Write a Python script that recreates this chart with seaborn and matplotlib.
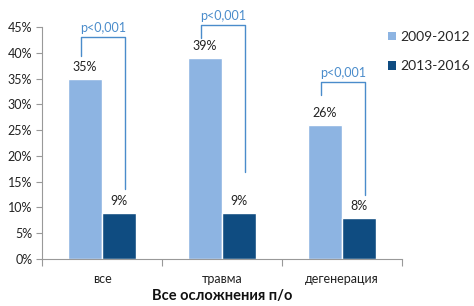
import matplotlib
matplotlib.use("Agg")
import matplotlib.pyplot as plt
import seaborn as sns
import pandas as pd
import numpy as np
from matplotlib.patches import Patch

categories = ["все", "травма", "дегенерация"]
series = ["2009-2012", "2013-2016"]
values_2009 = [35, 39, 26]
values_2013 = [9, 9, 8]
p_labels = ["p<0,001", "p<0,001", "p<0,001"]
y_ticks = [0, 5, 10, 15, 20, 25, 30, 35, 40, 45]
x_title = "Все осложнения п/о"

# bracket annotation heights (in % units)
bracket_top = [43.1, 45.4, 34.3]
bracket_left_bottom = [39.4, 42.9, 31.8]
bracket_right_bottom = [13.6, 16.9, 12.4]

colors = ["#8DB4E2", "#0F4C81"]
bracket_color = "#4A8CCB"

sns.set_theme(style="white")
plt.rcParams['font.family'] = ['Lato', 'Open Sans', 'DejaVu Sans']

df = pd.DataFrame({
    "cat": categories * 2,
    "period": [series[0]] * 3 + [series[1]] * 3,
    "val": values_2009 + values_2013,
})

fig = plt.figure(figsize=(4.74, 3.06), dpi=100)
ax = fig.add_axes([42 / 474, 47 / 306, 360 / 474, 232 / 306])
sns.barplot(data=df, x="cat", y="val", hue="period", palette=colors,
            width=0.57, ax=ax, legend=False, saturation=1)

ax.set_ylim(0, 45)
ax.set_xlim(-0.5, 2.5)
ax.set_yticks(y_ticks)
ax.set_yticklabels([f"{t}%" for t in y_ticks], fontsize=9, color="#222222")
ax.set_xticks(range(3))
ax.set_xticklabels(categories, fontsize=9, color="#222222")
ax.set_xticks([-0.5, 0.5, 1.5, 2.5], minor=True)
ax.tick_params(axis="x", which="major", length=0, pad=10)
ax.tick_params(axis="x", which="minor", length=5, color="#999999", width=0.8, direction="out", bottom=True)
ax.tick_params(axis="y", length=4, color="#999999", width=0.8, direction="out", left=True, pad=3)
ax.set_xlabel(x_title, fontsize=10.5, fontweight="bold", labelpad=3, color="#111111")
ax.set_ylabel("")
for s in ["top", "right"]:
    ax.spines[s].set_visible(False)
for s in ["left", "bottom"]:
    ax.spines[s].set_color("#999999")
    ax.spines[s].set_linewidth(0.8)

# value labels
for cont in ax.containers:
    ax.bar_label(cont, labels=[f"{int(v)}%" for v in cont.datavalues],
                 padding=4, fontsize=9, color="#222222")

# brackets
for i in range(3):
    xl = i - 0.175
    xr = i + 0.19
    ax.plot([xl, xl, xr, xr],
            [bracket_left_bottom[i], bracket_top[i], bracket_top[i], bracket_right_bottom[i]],
            color=bracket_color, lw=1.0, clip_on=False)
    ax.text((xl + xr) / 2, bracket_top[i] + 0.6, p_labels[i], ha="center", va="bottom",
            fontsize=9, color=bracket_color, clip_on=False)

handles = [Patch(facecolor=c, edgecolor="none") for c in colors]
fig.legend(handles, series, loc="upper left", bbox_to_anchor=(388 / 474, 1 - 31 / 306),
           frameon=False, fontsize=10, handlelength=0.55, handleheight=0.55,
           handletextpad=0.35, labelspacing=1.25, borderaxespad=0, borderpad=0)

fig.savefig("out.png", dpi=100)
